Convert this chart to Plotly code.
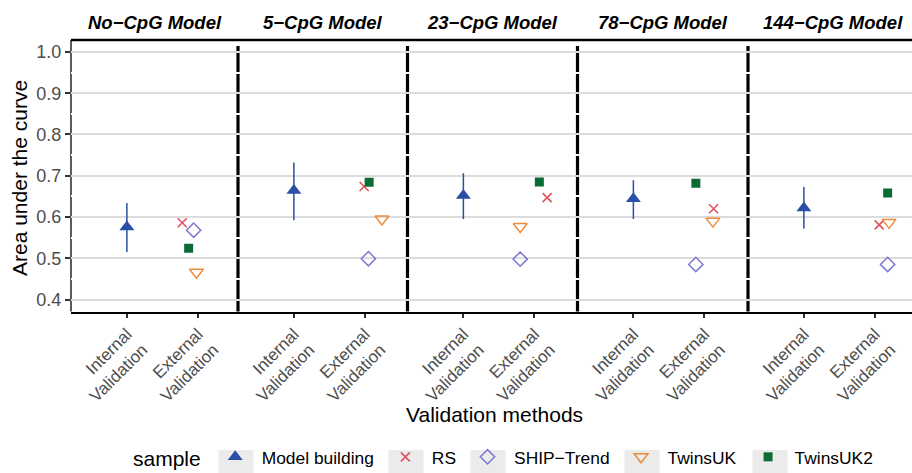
import plotly.graph_objects as go

# ---- data -------------------------------------------------------------
models = ["No\u2212CpG Model", "5\u2212CpG Model", "23\u2212CpG Model",
          "78\u2212CpG Model", "144\u2212CpG Model"]
method_labels = ["Internal<br>Validation", "External<br>Validation"]
samples = ["Model building", "RS", "SHIP\u2212Trend", "TwinsUK", "TwinsUK2"]

# internal validation (model building) AUC with interval
mb_auc = [0.576, 0.664, 0.652, 0.644, 0.622]
mb_low = [0.515, 0.592, 0.595, 0.595, 0.572]
mb_high = [0.634, 0.732, 0.706, 0.689, 0.673]

# external validation AUC per cohort
rs_auc = [0.586, 0.674, 0.647, 0.620, 0.581]
ship_auc = [0.568, 0.499, 0.498, 0.485, 0.485]
twinsuk_auc = [0.466, 0.595, 0.577, 0.590, 0.587]
twinsuk2_auc = [0.524, 0.684, 0.685, 0.682, 0.658]

# horizontal jitter of the external points (x units)
rs_jit = [-0.22, -0.01, 0.18, 0.13, 0.06]
ship_jit = [-0.06, 0.05, -0.20, -0.12, 0.18]
twinsuk_jit = [-0.02, 0.24, -0.20, 0.12, 0.20]
twinsuk2_jit = [-0.13, 0.06, 0.07, -0.12, 0.18]

# ---- layout constants --------------------------------------------------
W, H = 912, 473
FONT = "Liberation Sans, Arial, sans-serif"
edges = [71, 238, 407.5, 577.5, 748, 918]   # facet borders in px
top_px, bot_px = 40, 311.5
unit_px = 71
x_lo = 0.213
y_range = [0.371, 1.029]
legend_key_px = [236, 406, 488, 642, 770]    # centres of legend key boxes

C_MB = "#2A4FA6"
C_RS = "#E0525F"
C_SHIP = "#7E78D2"
C_TUK = "#EE8C3A"
C_TUK2 = "#0B6B35"

ext_series = [
    (samples[1], rs_auc, rs_jit, dict(symbol="x-thin-open", size=9, color=C_RS,
                                      line=dict(width=1.6, color=C_RS))),
    (samples[2], ship_auc, ship_jit, dict(symbol="diamond-open", size=11, color=C_SHIP,
                                          line=dict(width=1.5, color=C_SHIP))),
    (samples[3], twinsuk_auc, twinsuk_jit, dict(symbol="triangle-down-open", size=12,
                                                color=C_TUK, line=dict(width=1.5, color=C_TUK))),
    (samples[4], twinsuk2_auc, twinsuk2_jit, dict(symbol="square", size=9, color=C_TUK2)),
]

fig = go.Figure()
y_dom = [1 - bot_px / H, 1 - top_px / H]

for i, model in enumerate(models):
    xa = "x" if i == 0 else f"x{i + 1}"
    ya = "y" if i == 0 else f"y{i + 1}"
    first = i == 0

    fig.add_trace(go.Scatter(
        x=[1], y=[mb_auc[i]], xaxis=xa, yaxis=ya, mode="markers",
        name=samples[0], legendgroup="mb", showlegend=first,
        marker=dict(symbol="triangle-up", size=13, color=C_MB),
        error_y=dict(type="data", symmetric=False,
                     array=[mb_high[i] - mb_auc[i]],
                     arrayminus=[mb_auc[i] - mb_low[i]],
                     color=C_MB, thickness=1.5, width=0),
    ))
    for name, vals, jit, mk in ext_series:
        fig.add_trace(go.Scatter(
            x=[2 + jit[i]], y=[vals[i]], xaxis=xa, yaxis=ya, mode="markers",
            name=name, legendgroup=name, showlegend=first, marker=mk,
        ))

    x0, x1 = edges[i], edges[i + 1]
    dom = [x0 / W, min(x1 / W, 1.0)]
    width_px = min(x1, W) - x0
    xaxis = dict(
        domain=dom, range=[x_lo, x_lo + width_px / unit_px],
        tickvals=[1, 2], ticktext=method_labels, tickangle=-45,
        tickfont=dict(family=FONT, size=17, color="#4D4D4D"),
        ticks="outside", ticklen=4, tickwidth=1.5, tickcolor="#333333",
        showgrid=True, gridcolor="white", gridwidth=1.5,
        showline=True, linecolor="black", linewidth=2,
        zeroline=False, anchor=ya, fixedrange=True, automargin=False,
    )
    yaxis = dict(
        domain=y_dom, range=y_range, anchor=xa, dtick=0.1, tick0=0,
        tickformat=".1f", showgrid=True, gridcolor="#DCDCDC", gridwidth=2,
        minor=dict(dtick=0.05, showgrid=True, gridcolor="white", gridwidth=1.5),
        zeroline=False, showline=False, fixedrange=True, automargin=False,
        showticklabels=first,
        ticks="outside" if first else "", ticklen=5, tickwidth=1.5,
        tickcolor="#333333",
        tickfont=dict(family=FONT, size=18, color="#4D4D4D"),
    )
    if not first:
        yaxis["matches"] = "y"
    fig.update_layout({("xaxis" if first else f"xaxis{i + 1}"): xaxis,
                       ("yaxis" if first else f"yaxis{i + 1}"): yaxis})

    # facet title
    fig.add_annotation(
        text=f"<b><i>{model}</i></b>", xref="paper", yref="paper",
        x=(x0 + x1) / 2 / W, y=1 - 23 / H, showarrow=False,
        xanchor="center", yanchor="middle",
        font=dict(family=FONT, size=18.5, color="black"),
    )

    # facet separator lines (drawn under the grid)
    if first:
        fig.add_shape(type="line", xref="paper", yref="paper",
                      x0=x0 / W, x1=x0 / W, y0=y_dom[0], y1=y_dom[1],
                      line=dict(color="#333333", width=1.6), layer="below")
    else:
        fig.add_shape(type="line", xref="paper", yref="paper",
                      x0=x0 / W, x1=x0 / W, y0=y_dom[0], y1=1 - 46 / H,
                      line=dict(color="black", width=3.2), layer="below")

# top border across the facets
fig.add_shape(type="line", xref="paper", yref="paper",
              x0=edges[0] / W, x1=1, y0=y_dom[1], y1=y_dom[1],
              line=dict(color="black", width=2.5), layer="above")

# grey legend key backgrounds
for cx in legend_key_px:
    fig.add_shape(type="rect", xref="paper", yref="paper",
                  x0=(cx - 17.5) / W, x1=(cx + 17.5) / W,
                  y0=0, y1=1 - 450 / H,
                  fillcolor="#EBEBEB", line=dict(width=0), layer="below")

# axis titles
fig.add_annotation(text="Validation methods", xref="paper", yref="paper",
                   x=(edges[0] + edges[-1]) / 2 / W, y=1 - 414 / H,
                   showarrow=False, xanchor="center", yanchor="middle",
                   font=dict(family=FONT, size=21, color="black"))
fig.add_annotation(text="Area under the curve", xref="paper", yref="paper",
                   x=19 / W, y=1 - 178 / H, textangle=-90,
                   showarrow=False, xanchor="center", yanchor="middle",
                   font=dict(family=FONT, size=21, color="black"))

fig.update_layout(
    width=W, height=H,
    margin=dict(l=0, r=0, t=0, b=0, autoexpand=False),
    paper_bgcolor="white", plot_bgcolor="white",
    font=dict(family=FONT),
    showlegend=True,
    legend=dict(
        orientation="h", x=131 / W, xanchor="left", y=1 - 458 / H,
        yanchor="middle", bgcolor="rgba(0,0,0,0)", itemwidth=43,
        title=dict(text="sample", side="left",
                   font=dict(family=FONT, size=21, color="black")),
        font=dict(family=FONT, size=17.4, color="black"),
    ),
)

fig.write_html("out.html")
